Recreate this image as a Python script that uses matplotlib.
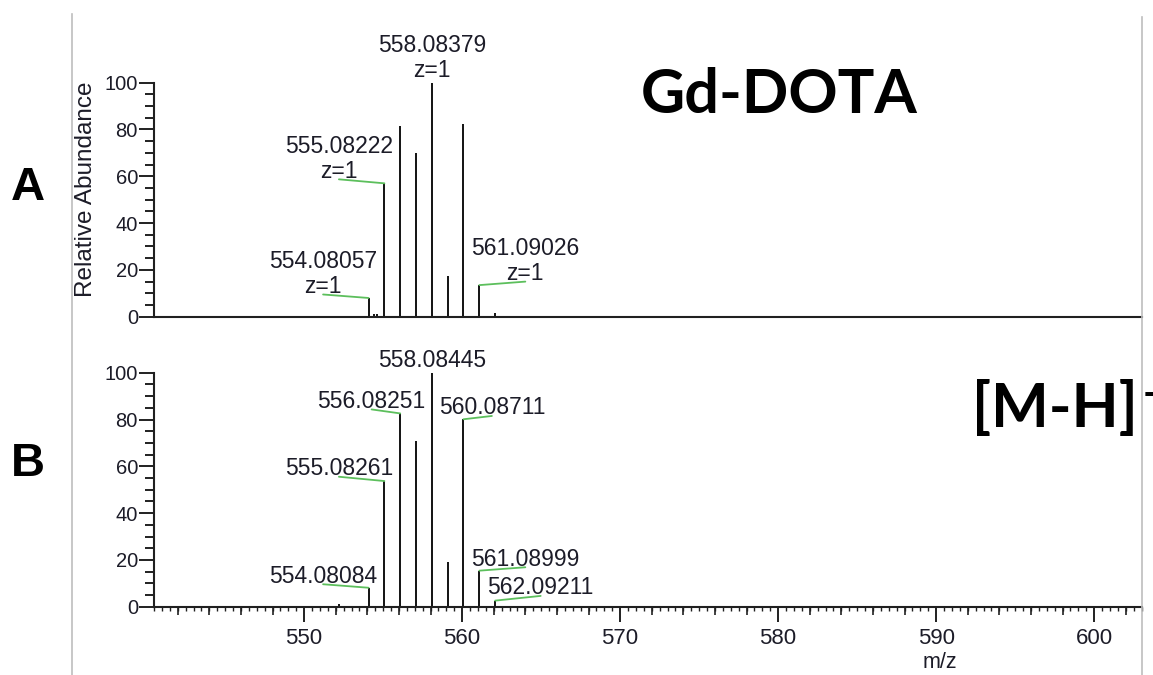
import numpy as np
import matplotlib
matplotlib.use("Agg")
import matplotlib.pyplot as plt
from matplotlib.lines import Line2D
from matplotlib.ticker import MultipleLocator

plt.rcParams['font.family'] = ['Liberation Sans', 'DejaVu Sans']

# Spectrum A: Gd-DOTA standard
mzA = [554.08057, 554.43, 554.60, 555.08222, 556.08, 557.08, 558.08379, 559.08, 560.08, 561.09026, 562.09]
intA = [8.0, 1.0, 1.0, 57.0, 81.5, 70.0, 100.0, 17.5, 82.3, 13.5, 1.5]
# labelled peaks: m/z, leader dx, leader dy (px)
labA = [(554.08057, -45.5, 3.5), (555.08222, -45.5, 4.0), (558.08379, 0, 0), (561.09026, 46.0, 3.5)]

# Spectrum B: sample, [M-H]-
mzB = [552.19, 554.08084, 555.08261, 556.08251, 557.08, 558.08445, 559.08, 560.08711, 561.08999, 562.09211]
intB = [1.0, 8.1, 53.7, 82.6, 70.8, 100.0, 19.2, 80.1, 15.4, 2.6]
labB = [(554.08084, -45.5, 3.5), (555.08261, -45.5, 4.3), (556.08251, -28.6, 4.0), (558.08445, 0, 0),
        (560.08711, 28.4, 3.3), (561.08999, 46.0, 3.4), (562.09211, 45.5, 4.7)]

W, H = 1153, 675
PT = 0.72  # points per pixel at dpi 100
GREEN = '#5cbf5c'
TXT = '#1c1c28'
LABEL_FS = 16.5

fig = plt.figure(figsize=(W / 100, H / 100), dpi=100)
fig.patch.set_facecolor('white')

def px_rect(x0, y_top, x1, y_bot):
    return [x0 / W, 1 - y_bot / H, (x1 - x0) / W, (y_bot - y_top) / H]

axA = fig.add_axes(px_rect(154, 82.7, 1142, 316.7))
axB = fig.add_axes(px_rect(154, 372.7, 1142, 606.7))

def style(ax, xticks):
    ax.set_xlim(540.5, 603.03)
    ax.set_ylim(0, 100)
    for s in ('top', 'right'):
        ax.spines[s].set_visible(False)
    for s in ('left', 'bottom'):
        ax.spines[s].set_linewidth(1.5)
        ax.spines[s].set_color('#202020')
    ax.yaxis.set_major_locator(MultipleLocator(20))
    ax.yaxis.set_minor_locator(MultipleLocator(5))
    ax.tick_params(axis='y', which='major', length=14.7 * PT, width=1.4, pad=1.0,
                   labelsize=14.5, labelcolor=TXT, color='#202020')
    ax.tick_params(axis='y', which='minor', length=9.3 * PT, width=1.4, color='#202020')
    if xticks:
        ax.xaxis.set_major_locator(MultipleLocator(10))
        ax.xaxis.set_minor_locator(MultipleLocator(0.5))
        ax.tick_params(axis='x', which='major', length=15 * PT, width=1.4, pad=4.8,
                       labelsize=16, labelcolor=TXT, color='#202020')
        ax.tick_params(axis='x', which='minor', length=4 * PT, width=1.0, color='#202020')
        # medium ticks every 2 m/z units
        sec = ax.secondary_xaxis('bottom')
        sec.set_xticks([t for t in np.arange(542, 604, 2) if t % 10])
        sec.tick_params(length=8 * PT, width=1.2, labelbottom=False, color='#202020')
        sec.spines['bottom'].set_visible(False)
    else:
        ax.set_xticks([])

def draw(ax, mz, inten, labels, zline):
    ax.vlines(mz, 0, inten, color='black', lw=1.3, clip_on=False)
    lookup = dict(zip(mz, inten))
    for m, dx, dy in labels:
        h = lookup[m]
        txt = f"{m:.5f}" + ("\nz=1" if zline else "")
        if dx == 0:
            ax.annotate(txt, xy=(m, h), xytext=(0, 5.5 * PT), textcoords='offset points',
                        ha='center', va='baseline', fontsize=LABEL_FS, color=TXT,
                        linespacing=1.12, annotation_clip=False)
            continue
        ax.annotate('', xy=(m, h), xytext=(dx * PT, dy * PT), textcoords='offset points',
                    arrowprops=dict(arrowstyle='-', color=GREEN, lw=1.3, shrinkA=0, shrinkB=0),
                    annotation_clip=False)
        ax.annotate(txt, xy=(m, h), xytext=(dx * PT, (dy + 1.5) * PT), textcoords='offset points',
                    ha='center', va='baseline', fontsize=LABEL_FS, color=TXT,
                    linespacing=1.12, annotation_clip=False)

style(axA, False)
style(axB, True)
draw(axA, mzA, intA, labA, True)
draw(axB, mzB, intB, labB, False)

fig.text(85.5 / W, 1 - 189 / H, 'Relative Abundance', rotation=90, ha='center', va='center',
         fontsize=17.5, color=TXT)
fig.text(940 / W, 1 - 663 / H, 'm/z', ha='center', va='center', fontsize=15.5, color=TXT)

# panel letters and titles
fig.text(27.5 / W, 1 - 188 / H, 'A', ha='center', va='center', fontsize=34, fontweight='bold')
fig.text(27.5 / W, 1 - 464 / H, 'B', ha='center', va='center', fontsize=34, fontweight='bold')
fig.text(779 / W, 1 - 113 / H, 'Gd-DOTA', ha='center', va='baseline', fontsize=44,
         fontweight='bold', family=['Lato', 'DejaVu Sans'])
fig.text(972 / W, 1 - 426.7 / H, '[M-H]', ha='left', va='baseline', fontsize=44,
         fontweight='bold', family=['Lato', 'DejaVu Sans'])
fig.text(1143 / W, 1 - 395 / H, '-', ha='left', va='center', fontsize=30,
         fontweight='bold', family=['Lato', 'DejaVu Sans'])

# grey frame edges
fig.add_artist(Line2D([72 / W, 72 / W], [0, 1 - 14 / H], color='#bdbdbd', lw=1.2))
fig.add_artist(Line2D([1142.3 / W, 1142.3 / W], [0, 1 - 16.7 / H], color='#bdbdbd', lw=1.2))

fig.savefig('out.png', dpi=100, facecolor='white')
